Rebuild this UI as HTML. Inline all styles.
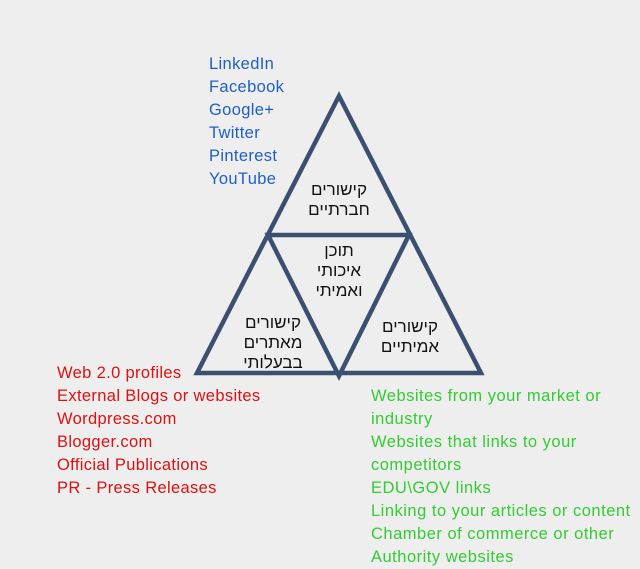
<!DOCTYPE html>
<html><head><meta charset="utf-8"><style>
html,body{margin:0;padding:0}
body{width:640px;height:568px;background:#eeeeee;position:relative;overflow:hidden;font-family:"Liberation Sans",sans-serif}
.l{position:absolute;font-size:16.5px;line-height:23px;white-space:nowrap;letter-spacing:0.35px}
.b{left:209px;top:53px;color:#1f5fc4}
.r{left:57px;top:362px;color:#dd1111}
.g{left:371px;top:385px;color:#33cc33;letter-spacing:0.5px}
.h{position:absolute;font-family:"Liberation Sans","Noto Sans CJK SC",sans-serif;font-size:17px;line-height:20px;text-align:center;color:#111;direction:rtl;width:100px}
</style></head><body>
<svg width="640" height="568" style="position:absolute;left:0;top:0">
<g fill="none" stroke="#3b5070" stroke-width="4.5" stroke-linejoin="miter">
<polygon points="339,96 197,373 481,373"/>
<polygon points="268,235 409,235 339,376"/>
</g>
</svg>
<div class="l b">LinkedIn<br>Facebook<br>Google+<br>Twitter<br>Pinterest<br>YouTube</div>
<div class="l r">Web 2.0 profiles<br>External Blogs or websites<br>Wordpress.com<br>Blogger.com<br>Official Publications<br>PR - Press Releases</div>
<div class="l g">Websites from your market or<br>industry<br>Websites that links to your<br>competitors<br>EDU\GOV links<br>Linking to your articles or content<br>Chamber of commerce or other<br>Authority websites</div>
<div class="h" style="left:289px;top:180px">קישורים<br>חברתיים</div>
<div class="h" style="left:289px;top:241px">תוכן<br>איכותי<br>ואמיתי</div>
<div class="h" style="left:223px;top:313px">קישורים<br>מאתרים<br>בבעלותי</div>
<div class="h" style="left:360px;top:317px">קישורים<br>אמיתיים</div>
</body></html>
